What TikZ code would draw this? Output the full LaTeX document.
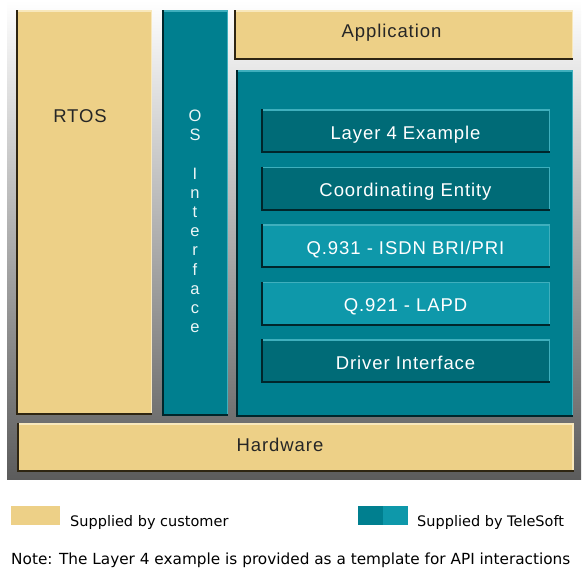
\documentclass[tikz,border=0pt]{standalone}
\usepackage{fontspec}
\setmainfont{Liberation Sans}
\newfontfamily\legendfont{DejaVu Sans}
\usepackage{tikz}
\usetikzlibrary{positioning}

\definecolor{custtan}{HTML}{EDD087}
\definecolor{tanedge}{HTML}{2E2512}
\definecolor{tanlight}{HTML}{F8E8BC}
\definecolor{tealmain}{HTML}{007F8F}
\definecolor{tealdark}{HTML}{006B77}
\definecolor{teallight}{HTML}{0E98AA}
\definecolor{tealedge}{HTML}{00262B}
\definecolor{tealhi}{HTML}{3FAFBD}
\definecolor{bgmid}{HTML}{C4C4C4}
\definecolor{bgdark}{HTML}{5C5C5C}

\newcommand{\boxfont}{\fontsize{18.5}{22}\selectfont\addfontfeatures{LetterSpace=5}}

\tikzset{
  box/.style={inner sep=0pt, outer sep=0pt},
  tanbox/.style={box, fill=custtan},
  tealbox/.style={box, fill=tealmain},
  layerbox/.style={box, minimum width=289pt, minimum height=44pt, text=white, font=\boxfont, text height=16.3pt, text depth=0pt},
  boxtext/.style={inner sep=0pt, font=\boxfont, text=black!85, text height=13.3pt, text depth=0pt},
  legendtext/.style={inner sep=0pt, font=\legendfont\fontsize{14.5}{17}\selectfont}
}

\begin{document}
\begin{tikzpicture}[x=1pt, y=-1pt]
    \useasboundingbox (0,0) rectangle (588,573);
    % grey frame behind the blocks
    \shade[top color=white, middle color=bgmid, bottom color=bgdark] (7,0) rectangle (581,479);

    % supplied by customer
    \node[tanbox, minimum width=136pt, minimum height=405pt] (rtos) at (84,212.5) {};
    \node[tanbox, minimum width=339pt, minimum height=50pt] (app) at (403.5,35) {};
    \node[tanbox, minimum width=557pt, minimum height=49pt] (hw) at (295,447.5) {};

    % supplied by telesoft
    \node[tealbox, minimum width=66pt, minimum height=406pt] (osif) at (195,213) {};
    \node[tealbox, minimum width=337pt, minimum height=347pt] (stack) at (404.5,243.5) {};
    \foreach \txt/\col [count=\i] in {Layer 4 Example/tealdark, Coordinating Entity/tealdark, {Q.931 - ISDN BRI/PRI}/teallight, Q.921 - LAPD/teallight, Driver Interface/tealdark} {
        \node[layerbox, fill=\col] (layer\i) at (405.5, {131+57.6*(\i-1)}) {\txt};
    }

    % bevelled edges
    \foreach \n in {rtos, app, hw} {
        \draw[tanlight, line width=1.5pt] ([yshift=-.75pt]\n.north west) -- ([xshift=-.75pt,yshift=-.75pt]\n.north east) -- ([xshift=-.75pt]\n.south east);
        \draw[tanedge, line width=2pt] ([xshift=1pt]\n.north west) -- ([xshift=1pt,yshift=1pt]\n.south west) -- ([yshift=1pt]\n.south east);
    }
    \foreach \n in {osif, stack, layer1, layer2, layer3, layer4, layer5} {
        \draw[tealhi, line width=1.5pt] ([yshift=-.75pt]\n.north west) -- ([xshift=-.75pt,yshift=-.75pt]\n.north east) -- ([xshift=-.75pt]\n.south east);
        \draw[tealedge, line width=2pt] ([xshift=1pt]\n.north west) -- ([xshift=1pt,yshift=1pt]\n.south west) -- ([yshift=1pt]\n.south east);
    }

    \node[boxtext] (rtoslabel) at (80,115.5) {RTOS};
    \node[boxtext] (applabel) at (391.5,30.5) {Application};
    \node[boxtext] (hwlabel) at (280,444.7) {Hardware};
    \node[boxtext, text=white!92!tealmain, align=center, text height=, text depth=, font=\fontsize{16.5}{19.2}\selectfont] (oslabel) at (195,221.5) {O\\S\\[19.2pt]I\\n\\t\\e\\r\\f\\a\\c\\e};

    % legend
    \node[tanbox, minimum width=49pt, minimum height=19pt] (custkey) at (35.5,515.5) {};
    \node[legendtext, anchor=base west] (custtext) at ([xshift=10pt,yshift=-1pt]custkey.south east) {Supplied by customer};
    \node[box, fill=tealmain, minimum width=25pt, minimum height=19pt] (telekeya) at (370.5,515.5) {};
    \node[box, fill=teallight, minimum width=25pt, minimum height=19pt, right=0pt of telekeya] (telekeyb) {};
    \node[legendtext, anchor=base west] (teletext) at ([xshift=9pt,yshift=-1pt]telekeyb.south east) {Supplied by TeleSoft};
    \node[legendtext, anchor=base west, font=\legendfont\fontsize{15.3}{17}\selectfont] (note) at (11,564) {Note: The Layer 4 example is provided as a template for API interactions};
\end{tikzpicture}
\end{document}
